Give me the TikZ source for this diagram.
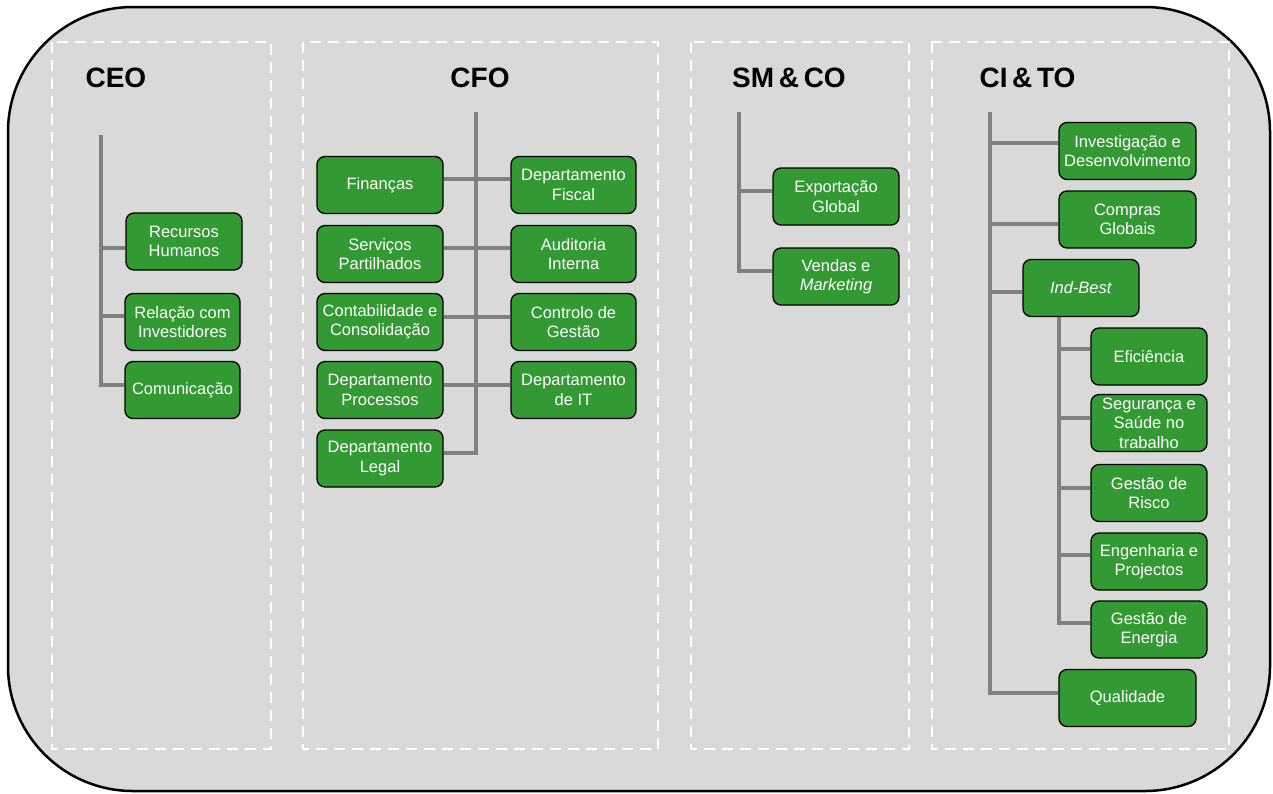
\documentclass[tikz,border=0pt]{standalone}
\usepackage{fontspec}
\setmainfont{Liberation Sans}
\definecolor{bggray}{HTML}{D9D9D9}
\definecolor{boxgreen}{HTML}{339933}
\definecolor{linegray}{HTML}{808080}
\begin{document}
\begin{tikzpicture}[x=1pt,y=-1pt,
  box/.style={draw=black, line width=1.3pt, fill=boxgreen, rounded corners=8pt,
    text=white, align=center, inner sep=1pt, font=\fontsize{16.5}{19.5}\selectfont,
    minimum height=57pt},
  wbox/.style={box, minimum width=126pt},
  title/.style={font=\fontsize{28}{32}\selectfont\bfseries, text=black},
  area/.style={draw=white, line width=2pt, dash pattern=on 11pt off 7pt},
  conn/.style={draw=linegray, line width=4pt}]
\useasboundingbox (0,0) rectangle (1273,793);
% outer panel
\draw[fill=bggray, line width=2.5pt, rounded corners=125pt] (8,7) rectangle (1270,791);
% dashed areas
\draw[area] (52,42) rectangle (271,749);
\draw[area] (303,42) rectangle (658,749);
\draw[area] (691,42) rectangle (909,749);
\draw[area] (932,42) rectangle (1229,749);
% titles
\node[title, anchor=west] (tceo) at (82,78) {CEO};
\node[title] (tcfo) at (480,78) {CFO};
\node[title] (tsm) at (789,78) {SM\,\&\,CO};
\node[title, anchor=west] (tci) at (976,78) {CI\,\&\,TO};
% CEO
\node[box, minimum width=116pt] (rh) at (184,241.5) {Recursos\\Humanos};
\node[box, minimum width=115pt] (ri) at (182.5,322) {Relação com\\Investidores};
\node[box, minimum width=115pt] (com) at (182.5,390) {Comunicação};
\coordinate (ceotop) at (101,135);
\draw[conn] (ceotop) |- ([yshift=5pt]com.west);
\draw[conn] ([yshift=-6.5pt]ceotop |- rh.west) -- ([yshift=-6.5pt]rh.west);
\draw[conn] ([yshift=6pt]ceotop |- ri.west) -- ([yshift=6pt]ri.west);
% CFO
\node[wbox] (fin) at (380,185) {Finanças};
\node[wbox] (ser) at (380,254) {Serviços\\Partilhados};
\node[wbox] (con) at (380,322) {Contabilidade e\\Consolidação};
\node[wbox] (pro) at (380,390) {Departamento\\Processos};
\node[wbox] (leg) at (380,458.5) {Departamento\\Legal};
\node[box, minimum width=125pt] (fis) at (573.5,185) {Departamento\\Fiscal};
\node[box, minimum width=125pt] (aud) at (573.5,254) {Auditoria\\Interna};
\node[box, minimum width=125pt] (ctl) at (573.5,322) {Controlo de\\Gestão};
\node[box, minimum width=125pt] (dit) at (573.5,390) {Departamento\\de IT};
\coordinate (cfotop) at (476,112);
\draw[conn] (cfotop) |- ([yshift=5.5pt]leg.east);
\draw[conn] ([yshift=6pt]fin.east) -- ([yshift=6pt]fis.west);
\draw[conn] ([yshift=6pt]ser.east) -- ([yshift=6pt]aud.west);
\draw[conn] ([yshift=5pt]con.east) -- ([yshift=5pt]ctl.west);
\draw[conn] ([yshift=5pt]pro.east) -- ([yshift=5pt]dit.west);
% SM & CO
\node[wbox] (exp) at (836,196.5) {Exportação\\Global};
\node[wbox] (ven) at (836,276.5) {Vendas e\\\textit{Marketing}};
\coordinate (smtop) at (739,112);
\draw[conn] (smtop) |- ([yshift=5.5pt]ven.west);
\draw[conn] ([yshift=5.5pt]smtop |- exp.west) -- ([yshift=5.5pt]exp.west);
% CI & TO
\node[box, minimum width=137pt] (inv) at (1127.5,151) {Investigação e\\Desenvolvimento};
\node[box, minimum width=137pt] (cmp) at (1127.5,219.5) {Compras\\Globais};
\node[box, minimum width=116pt] (ind) at (1081,288) {\textit{Ind-Best}};
\node[box, minimum width=116pt] (efi) at (1149,356.5) {Eficiência};
\node[box, minimum width=116pt] (seg) at (1149,423) {Segurança e\\Saúde no\\trabalho};
\node[box, minimum width=116pt] (ris) at (1149,493) {Gestão de\\Risco};
\node[box, minimum width=116pt] (eng) at (1149,561.5) {Engenharia e\\Projectos};
\node[box, minimum width=116pt] (ene) at (1149,629.5) {Gestão de\\Energia};
\node[box, minimum width=137pt] (qua) at (1127.5,698) {Qualidade};
\coordinate (citop) at (990,112);
\draw[conn] (citop) |- ([yshift=5pt]qua.west);
\draw[conn] ([yshift=8pt]citop |- inv.west) -- ([yshift=8pt]inv.west);
\draw[conn] ([yshift=-4.5pt]citop |- cmp.west) -- ([yshift=-4.5pt]cmp.west);
\draw[conn] ([yshift=-4pt]citop |- ind.west) -- ([yshift=-4pt]ind.west);
\coordinate (subtop) at ([xshift=-22pt]ind.south);
\draw[conn] (subtop) |- ([yshift=6.5pt]ene.west);
\draw[conn] ([yshift=7.5pt]subtop |- efi.west) -- ([yshift=7.5pt]efi.west);
\draw[conn] ([yshift=5pt]subtop |- seg.west) -- ([yshift=5pt]seg.west);
\draw[conn] ([yshift=5pt]subtop |- ris.west) -- ([yshift=5pt]ris.west);
\draw[conn] ([yshift=6.5pt]subtop |- eng.west) -- ([yshift=6.5pt]eng.west);
\end{tikzpicture}
\end{document}
